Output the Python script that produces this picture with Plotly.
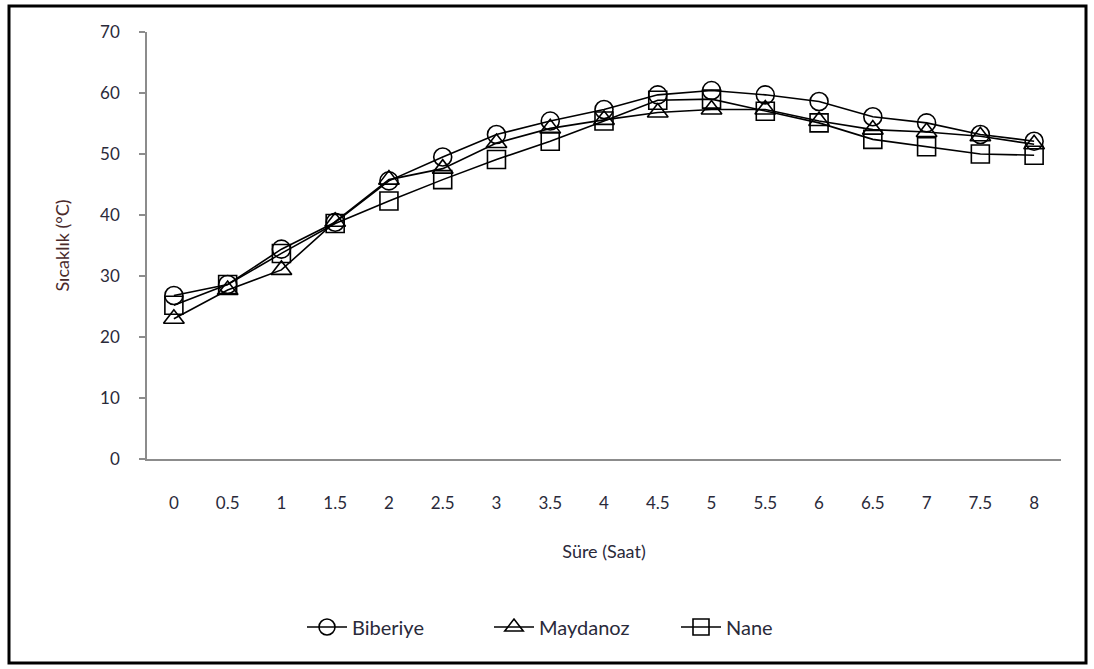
import plotly.graph_objects as go

sure = ["0", "0.5", "1", "1.5", "2", "2.5", "3", "3.5", "4", "4.5", "5", "5.5", "6", "6.5", "7", "7.5", "8"]
biberiye = [26.8, 28.6, 34.4, 38.8, 45.6, 49.5, 53.2, 55.4, 57.3, 59.7, 60.4, 59.7, 58.6, 56.1, 55.1, 53.2, 52.1]
maydanoz = [23.0, 27.7, 31.0, 38.9, 45.8, 47.6, 51.8, 54.2, 55.6, 56.8, 57.3, 57.3, 55.4, 54.0, 53.6, 52.9, 51.6]
nane = [25.2, 28.6, 33.7, 38.6, 42.3, 45.8, 49.1, 52.1, 55.4, 58.8, 59.0, 57.0, 55.1, 52.4, 51.2, 50.0, 49.8]

FIG_W, FIG_H = 1094, 669
L, R, T, B = 147, 33, 32, 210
PW, PH = FIG_W - L - R, FIG_H - T - B
FONT = "Lato, 'Open Sans', sans-serif"
TXT = "#2a2a3a"

fig = go.Figure()
series = [("Biberiye", biberiye, "circle-open", 18),
          ("Maydanoz", maydanoz, "triangle-up-open", 18),
          ("Nane", nane, "square-open", 18)]
for name, vals, sym, sz in series:
    fig.add_trace(go.Scatter(
        x=sure, y=vals, name=name, mode="lines+markers",
        line=dict(color="black", width=1.6),
        marker=dict(symbol=sym, size=sz, color="black", line=dict(color="black", width=1.6)),
    ))

def px_x(p):
    return (p - L) / PW

def px_y(p):
    return 1 - (p - T) / PH

fig.add_shape(type="rect", xref="paper", yref="paper",
              x0=px_x(9), x1=px_x(1086), y0=px_y(6), y1=px_y(663),
              line=dict(color="black", width=3), layer="below")

fig.update_layout(
    width=FIG_W, height=FIG_H,
    margin=dict(l=L, r=R, t=T, b=B),
    paper_bgcolor="white", plot_bgcolor="white",
    font=dict(family=FONT, size=17, color=TXT),
    showlegend=True,
    legend=dict(orientation="h", x=px_x(302), xanchor="left", y=px_y(627), yanchor="middle",
                font=dict(size=20, color=TXT), itemwidth=40, tracegroupgap=0,
                entrywidth=132, entrywidthmode="pixels"),
    xaxis=dict(
        type="category", range=[-0.5, 16.5],
        showline=True, linecolor="#8c8c8c", linewidth=1.5,
        ticks="", showgrid=False, zeroline=False,
        ticklabelstandoff=28,
        tickfont=dict(size=17, color=TXT),
        title=dict(text="Süre (Saat)", font=dict(size=18, color=TXT), standoff=33),
    ),
    yaxis=dict(
        range=[0, 70], dtick=10,
        showline=True, linecolor="#8c8c8c", linewidth=1.5,
        ticks="outside", ticklen=6, tickcolor="#8c8c8c", tickwidth=1.5,
        showgrid=False, zeroline=False,
        ticklabelstandoff=16,
        tickfont=dict(size=17, color=TXT),
        title=dict(text="Sıcaklık (°C)", font=dict(size=18, color="#4a2a2a"), standoff=26),
    ),
)

fig.write_html("out.html", config={"displayModeBar": False},
               post_script="document.body.style.margin='0px';document.body.style.overflow='hidden';")
